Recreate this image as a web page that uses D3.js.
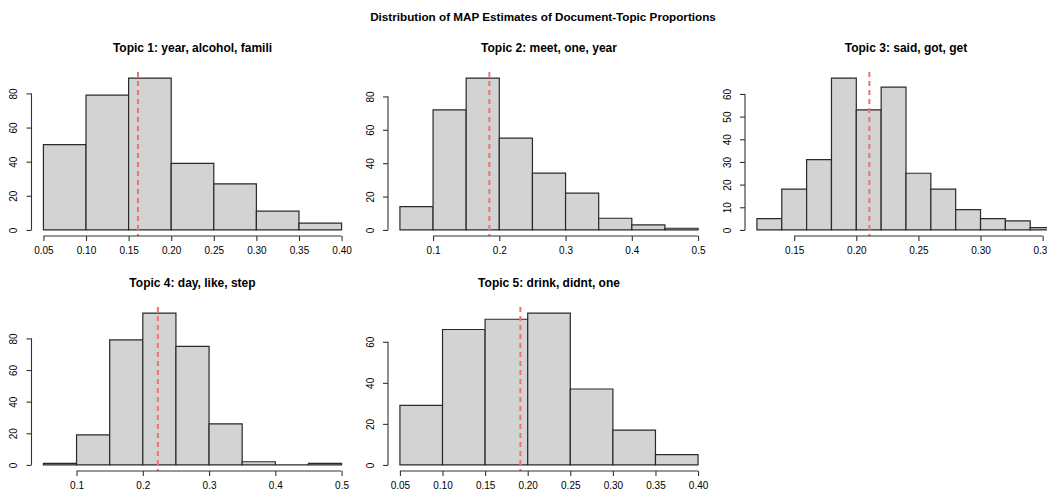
<!DOCTYPE html>
<html>
<head>
<meta charset="utf-8">
<script src="https://cdn.jsdelivr.net/npm/d3@7"></script>
<style>
  html, body { margin: 0; padding: 0; background: #fff; }
  svg { display: block; }
  text { font-family: "Liberation Sans", Arial, Helvetica, sans-serif; fill: #000; }
</style>
</head>
<body>
<svg id="chart" width="1047" height="495"></svg>
<script>
// ---- data ----
const mainTitle = "Distribution of MAP Estimates of Document-Topic Proportions";
const topicTitles = [
  "Topic 1: year, alcohol, famili",
  "Topic 2: meet, one, year",
  "Topic 3: said, got, get",
  "Topic 4: day, like, step",
  "Topic 5: drink, didnt, one"
];
const t1Breaks = [0.05, 0.10, 0.15, 0.20, 0.25, 0.30, 0.35, 0.40];
const t1Counts = [50, 79, 89, 39, 27, 11, 4];
const t2Breaks = [0.05, 0.10, 0.15, 0.20, 0.25, 0.30, 0.35, 0.40, 0.45, 0.50];
const t2Counts = [14, 72, 91, 55, 34, 22, 7, 3, 1];
const t3Breaks = [0.12, 0.14, 0.16, 0.18, 0.20, 0.22, 0.24, 0.26, 0.28, 0.30, 0.32, 0.34, 0.36];
const t3Counts = [5, 18, 31, 67, 53, 63, 25, 18, 9, 5, 4, 1];
const t4Breaks = [0.05, 0.10, 0.15, 0.20, 0.25, 0.30, 0.35, 0.40, 0.45, 0.50];
const t4Counts = [1, 19, 79, 96, 75, 26, 2, 0, 1];
const t5Breaks = [0.05, 0.10, 0.15, 0.20, 0.25, 0.30, 0.35, 0.40];
const t5Counts = [29, 66, 71, 74, 37, 17, 5];
const meanValues = [0.161, 0.185, 0.2105, 0.2227, 0.1914];

const t1XTicks = ["0.05", "0.10", "0.15", "0.20", "0.25", "0.30", "0.35", "0.40"];
const t2XTicks = ["0.1", "0.2", "0.3", "0.4", "0.5"];
const t3XTicks = ["0.15", "0.20", "0.25", "0.30", "0.35"];
const t4XTicks = ["0.1", "0.2", "0.3", "0.4", "0.5"];
const t5XTicks = ["0.05", "0.10", "0.15", "0.20", "0.25", "0.30", "0.35", "0.40"];
const t1YTicks = [0, 20, 40, 60, 80];
const t2YTicks = [0, 20, 40, 60, 80];
const t3YTicks = [0, 10, 20, 30, 40, 50, 60];
const t4YTicks = [0, 20, 40, 60, 80];
const t5YTicks = [0, 20, 40, 60];

// ---- layout ----
const panels = [
  { breaks: t1Breaks, counts: t1Counts, xt: t1XTicks, yt: t1YTicks, col: 0, row: 0 },
  { breaks: t2Breaks, counts: t2Counts, xt: t2XTicks, yt: t2YTicks, col: 1, row: 0 },
  { breaks: t3Breaks, counts: t3Counts, xt: t3XTicks, yt: t3YTicks, col: 2, row: 0 },
  { breaks: t4Breaks, counts: t4Counts, xt: t4XTicks, yt: t4YTicks, col: 0, row: 1 },
  { breaks: t5Breaks, counts: t5Counts, xt: t5XTicks, yt: t5YTicks, col: 1, row: 1 }
];
const colLeft = [31.5, 388, 745];
const rowTop = [72, 307];
const plotW = 322, plotH = 164;
const tickLen = 5;

const svg = d3.select("#chart");

svg.append("text")
  .attr("x", 543).attr("y", 21)
  .attr("text-anchor", "middle")
  .style("font-size", "11.7px").style("font-weight", "bold")
  .text(mainTitle);

panels.forEach((p, i) => {
  const left = colLeft[p.col], top = rowTop[p.row];
  const xmin = d3.min(p.breaks), xmax = d3.max(p.breaks);
  const xr = xmax - xmin;
  const ymax = d3.max(p.counts);
  const x = d3.scaleLinear().domain([xmin - 0.04 * xr, xmax + 0.04 * xr]).range([left, left + plotW]);
  const y = d3.scaleLinear().domain([-0.04 * ymax, 1.04 * ymax]).range([top + plotH, top]);
  const g = svg.append("g");

  // bars
  const bins = p.counts.map((c, k) => ({ x0: p.breaks[k], x1: p.breaks[k + 1], c }));
  g.selectAll("path.bar").data(bins).enter().append("path")
    .attr("class", "bar")
    .attr("d", d => {
      const x0 = x(d.x0), x1 = x(d.x1), y0 = y(0), y1 = y(d.c);
      return `M${x0},${y0}H${x1}V${y1}H${x0}Z`;
    })
    .attr("fill", "#d3d3d3")
    .attr("stroke", "#2a2a2a")
    .attr("stroke-width", 1.2);

  // mean line
  g.append("line")
    .attr("x1", x(meanValues[i])).attr("x2", x(meanValues[i]))
    .attr("y1", top).attr("y2", top + plotH)
    .attr("stroke", "#f07272")
    .attr("stroke-width", 2)
    .attr("stroke-dasharray", "5,4");

  // x axis
  const xv = p.xt.map(Number);
  const xAxis = d3.axisBottom(x).tickValues(xv).tickSize(tickLen).tickPadding(6)
    .tickFormat((d, k) => p.xt[k]);
  const xa = g.append("g").attr("transform", `translate(0,${top + plotH})`).call(xAxis);
  xa.select(".domain").attr("d", `M${x(xv[0])},0H${x(xv[xv.length - 1])}`)
    .attr("stroke", "#333").attr("stroke-width", 1.1);
  xa.selectAll(".tick line").attr("stroke", "#333").attr("stroke-width", 1.1);
  xa.selectAll(".tick text").style("font-size", "10px").style("font-family", "'Liberation Sans', Arial, sans-serif").attr("fill", "#222");

  // y axis
  const yAxis = d3.axisLeft(y).tickValues(p.yt).tickSize(tickLen).tickFormat(d3.format("d"));
  const ya = g.append("g").attr("transform", `translate(${left},0)`).call(yAxis);
  ya.select(".domain").attr("d", `M0,${y(p.yt[0])}V${y(p.yt[p.yt.length - 1])}`)
    .attr("stroke", "#333").attr("stroke-width", 1.1);
  ya.selectAll(".tick line").attr("stroke", "#333").attr("stroke-width", 1.1);
  ya.selectAll(".tick text")
    .attr("x", null).attr("dy", null)
    .attr("text-anchor", "middle")
    .attr("transform", "translate(-14.5,0) rotate(-90)")
    .style("font-size", "10px").style("font-family", "'Liberation Sans', Arial, sans-serif").attr("fill", "#222");

  // panel title
  svg.append("text")
    .attr("x", left + plotW / 2).attr("y", top - 20)
    .attr("text-anchor", "middle")
    .style("font-size", "12px").style("font-weight", "bold")
    .text(topicTitles[i]);
});
</script>
</body>
</html>
